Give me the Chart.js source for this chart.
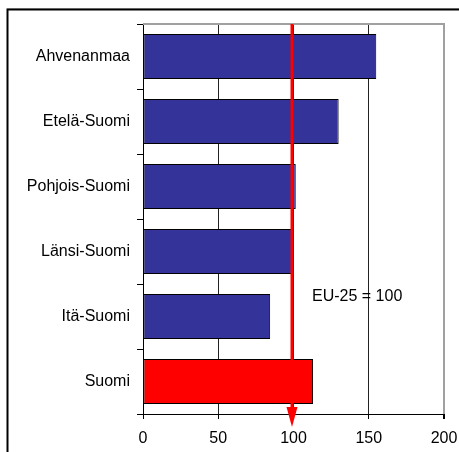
<!DOCTYPE html>
<html>
<head>
<meta charset="utf-8">
<script src="https://cdn.jsdelivr.net/npm/chart.js@4"></script>
<style>
  body { margin: 0; background: #fff; }
  #wrap { width: 459px; height: 452px; }
</style>
</head>
<body>
<div id="wrap"><canvas id="gdpChart" width="459" height="452"></canvas></div>
<script>
const regions = ["Ahvenanmaa", "Etelä-Suomi", "Pohjois-Suomi", "Länsi-Suomi", "Itä-Suomi", "Suomi"];
const gdpIndex = [155, 130, 101.5, 99, 84.5, 113];
const barColors = ["#333399", "#333399", "#333399", "#333399", "#333399", "#ff0000"];
const xTicks = [0, 50, 100, 150, 200];
const euLevel = 100;
const euLabel = "EU-25 = 100";

const FONT = "'Liberation Sans', Arial, sans-serif";

// white background + outer frame
const framePlugin = {
    id: "frame",
    beforeDraw(chart) {
        const c = chart.ctx;
        c.save();
        c.fillStyle = "#fff";
        c.fillRect(0, 0, chart.width, chart.height);
        c.strokeStyle = "#c8c8c8";
        c.lineWidth = 1;
        c.beginPath();
        c.moveTo(7, 8.5);
        c.lineTo(chart.width, 8.5);
        c.stroke();
        c.strokeStyle = "#000";
        c.lineWidth = 2;
        c.beginPath();
        c.moveTo(7.5, chart.height);
        c.lineTo(7.5, 9.5);
        c.lineTo(chart.width, 9.5);
        c.stroke();
        c.restore();
    },
    beforeDatasetsDraw(chart) {
        // gray top border of plot area
        const c = chart.ctx;
        const a = chart.chartArea;
        c.save();
        c.strokeStyle = "#a0a0a0";
        c.lineWidth = 2;
        c.beginPath();
        c.moveTo(a.left, a.top);
        c.lineTo(a.right + 1, a.top);
        c.stroke();
        c.restore();
    },
};

// EU-25 reference line with arrow
const euPlugin = {
    id: "euLine",
    afterDatasetsDraw(chart) {
        const c = chart.ctx;
        const a = chart.chartArea;
        const x = chart.scales.x.getPixelForValue(euLevel) - 1.5;
        const lineEnd = a.bottom - 7;
        c.save();
        c.strokeStyle = "#ff0000";
        c.fillStyle = "#ff0000";
        c.lineWidth = 3;
        c.beginPath();
        c.moveTo(x, a.top);
        c.lineTo(x, lineEnd);
        c.stroke();
        c.beginPath();
        c.moveTo(x - 5.5, lineEnd);
        c.lineTo(x + 5.5, lineEnd);
        c.lineTo(x, a.bottom + 13);
        c.closePath();
        c.fill();

        c.fillStyle = "#000";
        c.font = "16px " + FONT;
        c.textAlign = "left";
        c.textBaseline = "middle";
        c.fillText(euLabel, x + 20, chart.scales.y.getPixelForValue(4) - 20);
        c.restore();
    },
};

new Chart(document.getElementById("gdpChart"), {
    type: "bar",
    data: {
        labels: regions,
        datasets: [
            {
                data: gdpIndex,
                backgroundColor: barColors,
                borderColor: "#000",
                borderWidth: 1,
                borderSkipped: false,
                categoryPercentage: 1,
                barPercentage: 0.69,
            },
        ],
    },
    options: {
        indexAxis: "y",
        responsive: false,
        animation: false,
        layout: { padding: { left: 0, right: 15, top: 24, bottom: 0 } },
        plugins: {
            legend: { display: false },
            tooltip: { enabled: false },
        },
        scales: {
            x: {
                min: 0,
                max: 200,
                afterBuildTicks(scale) {
                    scale.ticks = xTicks.map((v) => ({ value: v }));
                },
                afterFit(scale) {
                    scale.height = 38;
                    scale.paddingLeft = 0;
                    scale.paddingRight = 0;
                },
                grid: {
                    color: (ctx) => (ctx.tick && ctx.tick.value === 200 ? "#a0a0a0" : "#222"),
                    lineWidth: (ctx) => (ctx.tick && ctx.tick.value === 200 ? 2 : 1),
                    tickLength: 5,
                    tickColor: "#000",
                },
                border: { color: "#000", width: 1 },
                ticks: {
                    color: "#000",
                    padding: 10,
                    maxRotation: 0,
                    font: { family: FONT, size: 16 },
                },
            },
            y: {
                afterFit(scale) {
                    scale.width = 143;
                    scale.paddingTop = 0;
                    scale.paddingBottom = 0;
                },
                grid: {
                    offset: true,
                    drawOnChartArea: false,
                    tickLength: 6,
                    tickColor: "#000",
                },
                border: { color: "#000", width: 1 },
                ticks: {
                    color: "#000",
                    padding: 7,
                    font: { family: FONT, size: 16 },
                },
            },
        },
    },
    plugins: [framePlugin, euPlugin],
});
</script>
</body>
</html>
